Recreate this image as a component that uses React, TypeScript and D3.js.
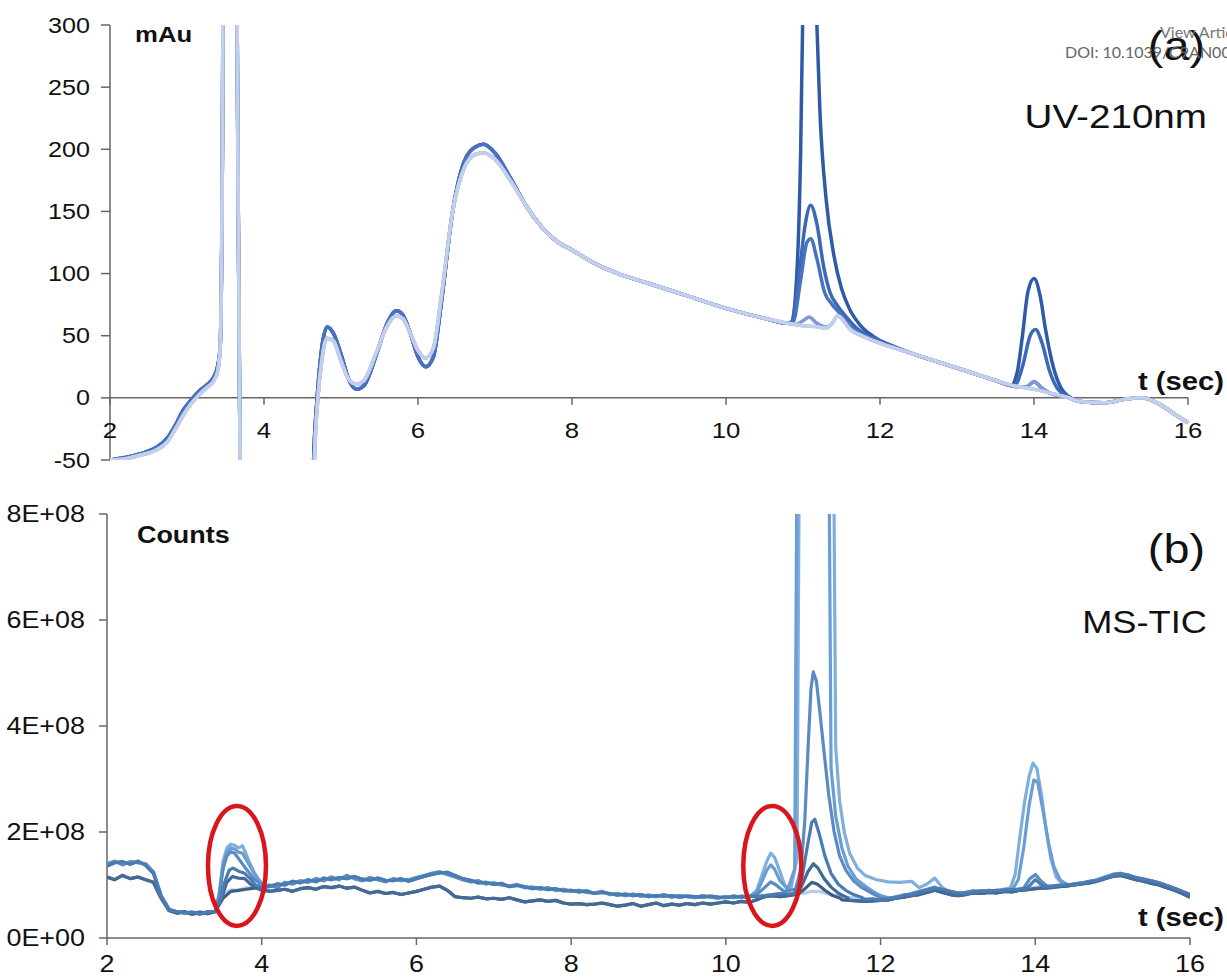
import { useEffect, useRef } from "react";
import * as d3 from "d3";

type Pt = [number, number];

const W = 1227;
const H = 978;

// shared x ticks (time, sec)
const xTicks = [2, 4, 6, 8, 10, 12, 14, 16];

// ---------- (a) UV-210nm, values in mAu ----------
const uvYTicks = [-50, 0, 50, 100, 150, 200, 250, 300];

// light traces, whole run
const uvBase: Pt[] = [
  [2.0, -50], [2.2, -49], [2.4, -46], [2.6, -42], [2.75, -35], [2.85, -25], [2.95, -14],
  [3.05, -5], [3.15, 2], [3.25, 8], [3.35, 14], [3.4, 22], [3.43, 40], [3.46, 200],
  [3.48, 600], [3.62, 600], [3.66, 200], [3.69, -60], [3.72, -300], [4.6, -300],
  [4.65, -60], [4.7, 0], [4.75, 30], [4.82, 48], [4.9, 46], [5.0, 30], [5.1, 15],
  [5.2, 11], [5.3, 14], [5.45, 35], [5.6, 58], [5.72, 66], [5.8, 64], [5.9, 52],
  [6.0, 38], [6.1, 32], [6.2, 40], [6.3, 80], [6.45, 150], [6.6, 185], [6.75, 196],
  [6.85, 197], [7.0, 192], [7.2, 175], [7.4, 155], [7.6, 138], [7.8, 126], [8.0, 119],
  [8.3, 108], [8.6, 100], [9.0, 92], [9.5, 82], [10.0, 72], [10.5, 64], [10.8, 60],
  [11.0, 58], [11.2, 57], [11.3, 56], [11.38, 60], [11.45, 66], [11.5, 64], [11.6, 56],
  [11.8, 49], [12.0, 44], [12.4, 36], [12.8, 28], [13.2, 20], [13.5, 14], [13.8, 9],
  [14.0, 7], [14.2, 4], [14.4, 1], [14.6, -3], [14.9, -4], [15.2, -1], [15.4, 0],
  [15.6, -4], [15.8, -12], [16.0, -20],
];

// dark traces: a bit higher on the early peaks, and a little above the light ones at the start
const uvStartDark: Pt[] = [
  [2.0, -50], [2.2, -48], [2.4, -45], [2.6, -40], [2.75, -32], [2.85, -22], [2.95, -10],
  [3.05, -2], [3.15, 5], [3.25, 10], [3.35, 17], [3.4, 26],
];
const uvEarlyDark: Pt[] = [
  [4.6, -300], [4.64, -60], [4.69, 0], [4.74, 35], [4.82, 57], [4.9, 52], [5.0, 35],
  [5.1, 15], [5.2, 7], [5.3, 10], [5.45, 33], [5.6, 60], [5.72, 70], [5.8, 67],
  [5.9, 52], [6.0, 33], [6.1, 25], [6.2, 33], [6.3, 75], [6.45, 150], [6.6, 190],
  [6.75, 202], [6.85, 204], [7.0, 197], [7.2, 177],
];

const uvPeak11A: Pt[] = [
  [10.85, 61], [10.92, 100], [10.97, 200], [11.0, 320], [11.1, 450], [11.17, 320],
  [11.22, 230], [11.3, 160], [11.4, 115], [11.5, 88], [11.6, 72], [11.75, 58],
  [11.9, 50], [12.0, 46],
];
const uvPeak11B: Pt[] = [
  [10.85, 61], [10.95, 100], [11.03, 140], [11.1, 155], [11.18, 140], [11.27, 105],
  [11.35, 85], [11.45, 74], [11.55, 66], [11.7, 56], [11.85, 50], [12.0, 46],
];
const uvPeak11C: Pt[] = [
  [10.87, 61], [10.97, 95], [11.05, 125], [11.1, 128], [11.18, 112], [11.28, 85],
  [11.38, 75], [11.48, 68], [11.6, 58], [11.75, 52], [12.0, 45],
];
const uvPeak11D: Pt[] = [[10.9, 59], [11.0, 62], [11.08, 65], [11.18, 60], [11.3, 57]];

const uvPeak14A: Pt[] = [
  [13.7, 10], [13.78, 20], [13.85, 50], [13.92, 85], [14.0, 96], [14.08, 82],
  [14.15, 55], [14.25, 25], [14.35, 8], [14.45, 1],
];
const uvPeak14B: Pt[] = [
  [13.75, 10], [13.85, 25], [13.95, 50], [14.02, 55], [14.1, 45], [14.2, 22],
  [14.3, 8], [14.45, 1],
];
const uvPeak14C: Pt[] = [[13.9, 9], [14.0, 13], [14.1, 8]];

const uvSeries = [
  { color: "#2f5aa6", parts: [uvStartDark, uvEarlyDark, uvPeak11A, uvPeak14A] },
  { color: "#3c68b8", parts: [uvStartDark, uvEarlyDark, uvPeak11B, uvPeak14B] },
  { color: "#4772c0", parts: [uvStartDark, uvEarlyDark, uvPeak11C, uvPeak14C] },
  { color: "#7f98cf", parts: [uvPeak11D, uvPeak14C] },
  { color: "#a5b8e0", parts: [] as Pt[][] },
  { color: "#c3cfec", parts: [] as Pt[][] },
];

// ---------- (b) MS-TIC, values in 1E+08 counts, one value every 0.1 s from 2.0 ----------
const msYTicks = [0, 2, 4, 6, 8];
const msYLabels = ["0E+00", "2E+08", "4E+08", "6E+08", "8E+08"];
const msStart = 2;
const msStep = 0.1;

const msUpper = [
  1.40, 1.45, 1.38, 1.44, 1.42, 1.40, 1.25, 0.80, 0.55, 0.48,
  0.50, 0.46, 0.49, 0.47, 0.50, 0.80, 0.90, 0.92, 0.93, 0.95,
  0.98, 1.00, 0.95, 1.05, 1.02, 1.08, 1.05, 1.12, 1.08, 1.15,
  1.10, 1.18, 1.12, 1.08, 1.14, 1.10, 1.06, 1.12, 1.08, 1.10,
  1.14, 1.18, 1.22, 1.25, 1.20, 1.15, 1.10, 1.06, 1.08, 1.02,
  1.04, 1.00, 0.98, 1.01, 0.95, 0.96, 0.92, 0.95, 0.90, 0.92,
  0.88, 0.90, 0.86, 0.85, 0.88, 0.82, 0.84, 0.80, 0.83, 0.79,
  0.81, 0.78, 0.82, 0.77, 0.80, 0.78, 0.76, 0.80, 0.77, 0.75,
  0.78, 0.76, 0.79, 0.77, 0.80, 0.82, 0.84, 0.83, 0.82, 0.84,
  0.86, 0.90, 0.86, 0.82, 0.80, 0.78, 0.77, 0.75, 0.74, 0.72,
  0.73, 0.74, 0.78, 0.80, 0.84, 0.88, 0.92, 0.96, 0.90, 0.86,
  0.84, 0.86, 0.89, 0.87, 0.90, 0.88, 0.92, 0.90, 0.93, 0.95,
  0.97, 0.96, 0.98, 1.00, 0.99, 1.02, 1.04, 1.06, 1.10, 1.15,
  1.20, 1.22, 1.16, 1.12, 1.10, 1.06, 1.02, 0.98, 0.92, 0.86,
  0.80,
];

// second copy of the upper group, a touch noisier
const msUpper2 = [
  1.36, 1.42, 1.44, 1.39, 1.45, 1.37, 1.22, 0.78, 0.53, 0.50,
  0.47, 0.49, 0.45, 0.50, 0.48, 0.82, 0.91, 0.90, 0.95, 0.94,
  1.00, 0.97, 1.02, 1.00, 1.07, 1.04, 1.10, 1.06, 1.13, 1.10,
  1.14, 1.12, 1.16, 1.11, 1.09, 1.13, 1.09, 1.08, 1.12, 1.07,
  1.12, 1.16, 1.20, 1.23, 1.24, 1.18, 1.12, 1.09, 1.04, 1.05,
  1.01, 1.03, 0.97, 0.99, 0.97, 0.93, 0.95, 0.91, 0.93, 0.89,
  0.90, 0.87, 0.89, 0.84, 0.86, 0.84, 0.81, 0.83, 0.80, 0.82,
  0.78, 0.80, 0.79, 0.80, 0.77, 0.79, 0.78, 0.77, 0.79, 0.77,
  0.76, 0.79, 0.77, 0.79, 0.78, 0.80, 0.82, 0.84, 0.83, 0.85,
  0.84, 0.88, 0.88, 0.84, 0.81, 0.79, 0.76, 0.76, 0.73, 0.74,
  0.71, 0.75, 0.76, 0.81, 0.82, 0.86, 0.90, 0.94, 0.92, 0.88,
  0.85, 0.84, 0.87, 0.89, 0.88, 0.90, 0.90, 0.92, 0.91, 0.94,
  0.96, 0.98, 0.97, 0.99, 1.01, 1.00, 1.03, 1.07, 1.08, 1.13,
  1.18, 1.21, 1.19, 1.14, 1.11, 1.08, 1.04, 0.99, 0.94, 0.88,
  0.82,
];

const msLower = [
  1.15, 1.10, 1.18, 1.12, 1.15, 1.10, 1.05, 0.75, 0.52, 0.47,
  0.49, 0.45, 0.48, 0.46, 0.50, 0.75, 0.88, 0.90, 0.92, 0.94,
  0.95, 0.88, 0.90, 0.92, 0.88, 0.93, 0.95, 0.92, 0.97, 0.95,
  0.98, 0.94, 0.96, 0.90, 0.85, 0.88, 0.84, 0.86, 0.82, 0.85,
  0.88, 0.92, 0.96, 0.98, 0.90, 0.78, 0.76, 0.75, 0.77, 0.74,
  0.75, 0.73, 0.76, 0.72, 0.68, 0.70, 0.72, 0.69, 0.71, 0.66,
  0.64, 0.65, 0.63, 0.64, 0.66, 0.63, 0.60, 0.62, 0.65, 0.60,
  0.63, 0.66, 0.61, 0.64, 0.62, 0.65, 0.63, 0.66, 0.64, 0.66,
  0.68, 0.66, 0.69, 0.67, 0.72, 0.78, 0.80, 0.78, 0.80, 0.82,
  0.80, 0.82, 0.78, 0.76, 0.74, 0.72, 0.71, 0.70, 0.69, 0.70,
  0.71, 0.72, 0.75, 0.77, 0.80, 0.82, 0.86, 0.90, 0.86, 0.82,
  0.80, 0.82, 0.85, 0.84, 0.86, 0.85, 0.88, 0.87, 0.90, 0.91,
  0.93, 0.94, 0.95, 0.97, 0.98, 1.00, 1.02, 1.04, 1.07, 1.12,
  1.16, 1.18, 1.14, 1.10, 1.07, 1.03, 1.00, 0.95, 0.90, 0.84,
  0.77,
];

const ms36A: Pt[] = [
  [3.4, 0.5], [3.45, 0.85], [3.5, 1.45], [3.55, 1.7], [3.6, 1.77], [3.65, 1.75],
  [3.7, 1.7], [3.75, 1.74], [3.8, 1.58], [3.85, 1.4], [3.9, 1.25], [3.95, 1.12],
  [4.0, 1.04], [4.05, 0.99],
];
const ms36B: Pt[] = [
  [3.4, 0.5], [3.45, 0.8], [3.5, 1.35], [3.55, 1.62], [3.6, 1.7], [3.65, 1.68],
  [3.7, 1.62], [3.75, 1.6], [3.8, 1.48], [3.9, 1.22], [4.0, 1.02], [4.05, 0.98],
];
const ms36C: Pt[] = [
  [3.4, 0.5], [3.45, 0.78], [3.5, 1.3], [3.55, 1.55], [3.6, 1.63], [3.65, 1.6],
  [3.7, 1.5], [3.8, 1.3], [3.9, 1.12], [4.0, 1.0], [4.05, 0.97],
];
const ms36D: Pt[] = [
  [3.4, 0.5], [3.47, 0.75], [3.52, 1.05], [3.58, 1.28], [3.63, 1.32], [3.7, 1.26],
  [3.78, 1.22], [3.85, 1.12], [3.92, 1.0], [4.0, 0.95], [4.05, 0.97],
];
const ms36E: Pt[] = [
  [3.4, 0.5], [3.48, 0.75], [3.55, 1.05], [3.62, 1.16], [3.7, 1.13], [3.78, 1.12],
  [3.85, 1.02], [3.95, 0.93], [4.0, 0.9],
];

const ms11A: Pt[] = [
  [10.3, 0.77], [10.4, 0.9], [10.47, 1.2], [10.53, 1.45], [10.58, 1.6], [10.63, 1.52],
  [10.7, 1.25], [10.76, 1.0], [10.84, 0.92], [10.92, 1.5], [10.96, 12], [11.38, 12],
  [11.42, 3.6], [11.47, 2.6], [11.53, 2.0], [11.6, 1.6], [11.7, 1.32], [11.8, 1.18],
  [11.95, 1.1], [12.1, 1.06], [12.25, 1.05], [12.4, 1.07], [12.5, 0.95], [12.6, 1.02],
  [12.7, 1.13], [12.8, 0.95], [12.85, 0.9],
];
const ms11B: Pt[] = [
  [10.3, 0.77], [10.4, 0.86], [10.47, 1.08], [10.53, 1.28], [10.58, 1.38], [10.63, 1.3],
  [10.7, 1.08], [10.8, 0.92], [10.89, 1.3], [10.93, 12], [11.32, 12], [11.36, 3.2],
  [11.42, 2.3], [11.5, 1.7], [11.58, 1.35], [11.68, 1.12], [11.8, 0.98], [11.9, 0.88],
  [12.0, 0.8], [12.1, 0.76],
];
const ms11C: Pt[] = [
  [10.4, 0.82], [10.5, 0.95], [10.58, 1.06], [10.65, 1.0], [10.75, 0.88], [10.9, 0.92],
  [10.97, 1.3], [11.02, 2.2], [11.06, 3.5], [11.1, 4.7], [11.13, 5.02], [11.17, 4.85],
  [11.22, 4.2], [11.27, 3.5], [11.33, 2.7], [11.4, 2.0], [11.47, 1.55], [11.55, 1.28],
  [11.65, 1.08], [11.76, 0.95], [11.88, 0.85], [12.0, 0.76],
];
const ms11D: Pt[] = [
  [10.88, 0.84], [10.98, 1.1], [11.05, 1.7], [11.11, 2.18], [11.15, 2.24], [11.21, 1.95],
  [11.28, 1.55], [11.36, 1.22], [11.45, 1.02], [11.55, 0.9], [11.65, 0.82], [11.75, 0.77],
];
const ms11E: Pt[] = [
  [10.88, 0.82], [10.98, 0.98], [11.06, 1.25], [11.13, 1.4], [11.19, 1.32], [11.27, 1.12],
  [11.36, 0.96], [11.46, 0.84], [11.58, 0.75],
];
const ms11F: Pt[] = [
  [10.93, 0.82], [11.03, 0.94], [11.11, 1.05], [11.18, 1.02], [11.28, 0.9], [11.38, 0.8],
  [11.48, 0.75],
];

const ms14A: Pt[] = [
  [13.6, 0.92], [13.68, 0.95], [13.74, 1.2], [13.8, 1.9], [13.86, 2.55], [13.92, 3.05],
  [13.97, 3.3], [14.02, 3.2], [14.08, 2.7], [14.14, 2.05], [14.2, 1.5], [14.27, 1.15],
  [14.35, 1.02], [14.42, 1.0],
];
const ms14B: Pt[] = [
  [13.7, 0.9], [13.78, 1.1], [13.85, 1.7], [13.92, 2.5], [13.98, 2.98], [14.03, 2.95],
  [14.1, 2.4], [14.17, 1.8], [14.24, 1.35], [14.32, 1.1], [14.42, 1.0],
];
const ms14C: Pt[] = [[13.85, 0.94], [13.93, 1.12], [14.0, 1.2], [14.07, 1.08], [14.15, 0.98]];
const ms14D: Pt[] = [[13.9, 0.95], [14.0, 1.1], [14.1, 0.98]];

const msSeries = [
  { color: "#b9cde9", base: msUpper2, parts: [] as Pt[][] },
  { color: "#7fafdd", base: msUpper, parts: [ms36A, ms11A, ms14A] },
  { color: "#6a9dd3", base: msUpper2, parts: [ms36B, ms11B, ms14B] },
  { color: "#5a8cc3", base: msUpper, parts: [ms36C, ms11C, ms14C] },
  { color: "#3c5e82", base: msLower, parts: [ms11F] },
  { color: "#436b97", base: msLower, parts: [ms36E, ms11E] },
  { color: "#4a7cb2", base: msUpper2, parts: [ms36D, ms11D, ms14D] },
];

// red ellipses drawn over the MS panel (t, 1E+08 counts)
const msCircles: Pt[] = [[3.68, 1.36], [10.6, 1.36]];

// replace the base within each part's time span by that part's own points
function merge(base: Pt[], parts: Pt[][]): Pt[] {
  let out = base.filter(([t]) => !parts.some((p) => t >= p[0][0] && t <= p[p.length - 1][0]));
  parts.forEach((p) => (out = out.concat(p)));
  return out.sort((a, b) => a[0] - b[0]);
}

const FONT = "'Liberation Sans', Arial, sans-serif";
const STRETCH = 1.17;

function label(g: any, x: number, y: number, str: string, size: number, opts: any = {}) {
  g.append("text")
    .attr("transform", `translate(${x},${y}) scale(${opts.sx ?? STRETCH},1)`)
    .attr("font-family", opts.family ?? FONT)
    .attr("font-size", size)
    .attr("font-weight", opts.weight ?? "normal")
    .attr("text-anchor", opts.anchor ?? "start")
    .attr("fill", opts.fill ?? "#111")
    .text(str);
}

export default function App() {
  const ref = useRef<SVGSVGElement>(null);

  useEffect(() => {
    document.body.style.margin = "0";
    const svg = d3.select(ref.current);
    svg.selectAll("*").remove();
    const axisColor = "#666";

    /*** (a) UV ***/
    const xa = d3.scaleLinear().domain([2, 16]).range([110, 1188]);
    const ya = d3.scaleLinear().domain([-50, 300]).range([460, 25]);
    const ga = svg.append("g");

    ga.append("clipPath").attr("id", "clipA")
      .append("rect").attr("x", xa(2)).attr("y", ya(300))
      .attr("width", xa(16) - xa(2) + 4).attr("height", ya(-50) - ya(300));

    // axes
    ga.append("line").attr("x1", xa(2)).attr("x2", xa(2)).attr("y1", ya(300)).attr("y2", ya(-50))
      .attr("stroke", axisColor).attr("stroke-width", 1.5);
    ga.append("line").attr("x1", xa(2)).attr("x2", xa(16)).attr("y1", ya(0)).attr("y2", ya(0))
      .attr("stroke", axisColor).attr("stroke-width", 1.5);
    uvYTicks.forEach((v) => {
      ga.append("line").attr("x1", xa(2) - 9).attr("x2", xa(2)).attr("y1", ya(v)).attr("y2", ya(v))
        .attr("stroke", axisColor).attr("stroke-width", 1.5);
      label(ga, xa(2) - 20, ya(v) + 7.5, String(v), 21.5, { anchor: "end" });
    });
    xTicks.forEach((t) => {
      ga.append("line").attr("x1", xa(t)).attr("x2", xa(t)).attr("y1", ya(0)).attr("y2", ya(0) + 7)
        .attr("stroke", axisColor).attr("stroke-width", 1.5);
      label(ga, xa(t), ya(0) + 40, String(t), 22, { anchor: "middle" });
    });

    const lineA = d3.line<Pt>().x((d) => xa(d[0])).y((d) => ya(d[1])).curve(d3.curveMonotoneX);
    const plotA = ga.append("g").attr("clip-path", "url(#clipA)");
    uvSeries.forEach((s) => {
      plotA.append("path").datum(merge(uvBase, s.parts)).attr("d", lineA)
        .attr("fill", "none").attr("stroke", s.color).attr("stroke-width", 3.5)
        .attr("stroke-linejoin", "round");
    });

    label(ga, 135, 42, "mAu", 22, { weight: "bold" });
    label(ga, 1207, 128, "UV-210nm", 33, { anchor: "end" });
    label(ga, 1205, 60, "(a)", 40, { anchor: "end" });
    label(ga, 1224, 390, "t (sec)", 25, { anchor: "end", weight: "bold" });

    /*** (b) MS-TIC ***/
    const xb = d3.scaleLinear().domain([2, 16]).range([107, 1190]);
    const yb = d3.scaleLinear().domain([0, 8]).range([938, 514]);
    const gb = svg.append("g");

    gb.append("clipPath").attr("id", "clipB")
      .append("rect").attr("x", xb(2)).attr("y", yb(8))
      .attr("width", xb(16) - xb(2)).attr("height", yb(0) - yb(8));

    gb.append("line").attr("x1", xb(2)).attr("x2", xb(2)).attr("y1", yb(8)).attr("y2", yb(0))
      .attr("stroke", axisColor).attr("stroke-width", 1.5);
    gb.append("line").attr("x1", xb(2)).attr("x2", xb(16)).attr("y1", yb(0)).attr("y2", yb(0))
      .attr("stroke", axisColor).attr("stroke-width", 1.5);
    msYTicks.forEach((v, i) => {
      gb.append("line").attr("x1", xb(2) - 8).attr("x2", xb(2)).attr("y1", yb(v)).attr("y2", yb(v))
        .attr("stroke", axisColor).attr("stroke-width", 1.5);
      label(gb, xb(2) - 22, yb(v) + 8, msYLabels[i], 23, { anchor: "end" });
    });
    xTicks.forEach((t) => {
      gb.append("line").attr("x1", xb(t)).attr("x2", xb(t)).attr("y1", yb(0)).attr("y2", yb(0) + 7)
        .attr("stroke", axisColor).attr("stroke-width", 1.5);
      label(gb, xb(t), yb(0) + 34, String(t), 23, { anchor: "middle" });
    });

    const lineB = d3.line<Pt>().x((d) => xb(d[0])).y((d) => yb(d[1]));
    const plotB = gb.append("g").attr("clip-path", "url(#clipB)");
    msSeries.forEach((s) => {
      const base: Pt[] = s.base.map((v, i) => [msStart + i * msStep, v]);
      plotB.append("path").datum(merge(base, s.parts)).attr("d", lineB)
        .attr("fill", "none").attr("stroke", s.color).attr("stroke-width", 3.2)
        .attr("stroke-linejoin", "round");
    });

    msCircles.forEach(([t, v]) => {
      gb.append("ellipse").attr("cx", xb(t)).attr("cy", yb(v)).attr("rx", 29).attr("ry", 60)
        .attr("fill", "none").attr("stroke", "#d9161c").attr("stroke-width", 4.5);
    });

    label(gb, 137, 543, "Counts", 23, { weight: "bold" });
    label(gb, 1205, 563, "(b)", 40, { anchor: "end" });
    label(gb, 1207, 633, "MS-TIC", 31, { anchor: "end" });
    label(gb, 1224, 926, "t (sec)", 25, { anchor: "end", weight: "bold" });

    /*** journal watermark, cut by the page edge ***/
    label(svg, 1160, 38, "View Article Online", 16, { family: "Lato, sans-serif", fill: "#777", sx: 1 });
    label(svg, 1065, 58, "DOI: 10.1039/C9AN00000A", 16, { family: "Lato, sans-serif", fill: "#666", sx: 1 });
  }, []);

  return <svg ref={ref} width={W} height={H} style={{ display: "block", background: "#fff" }} />;
}
